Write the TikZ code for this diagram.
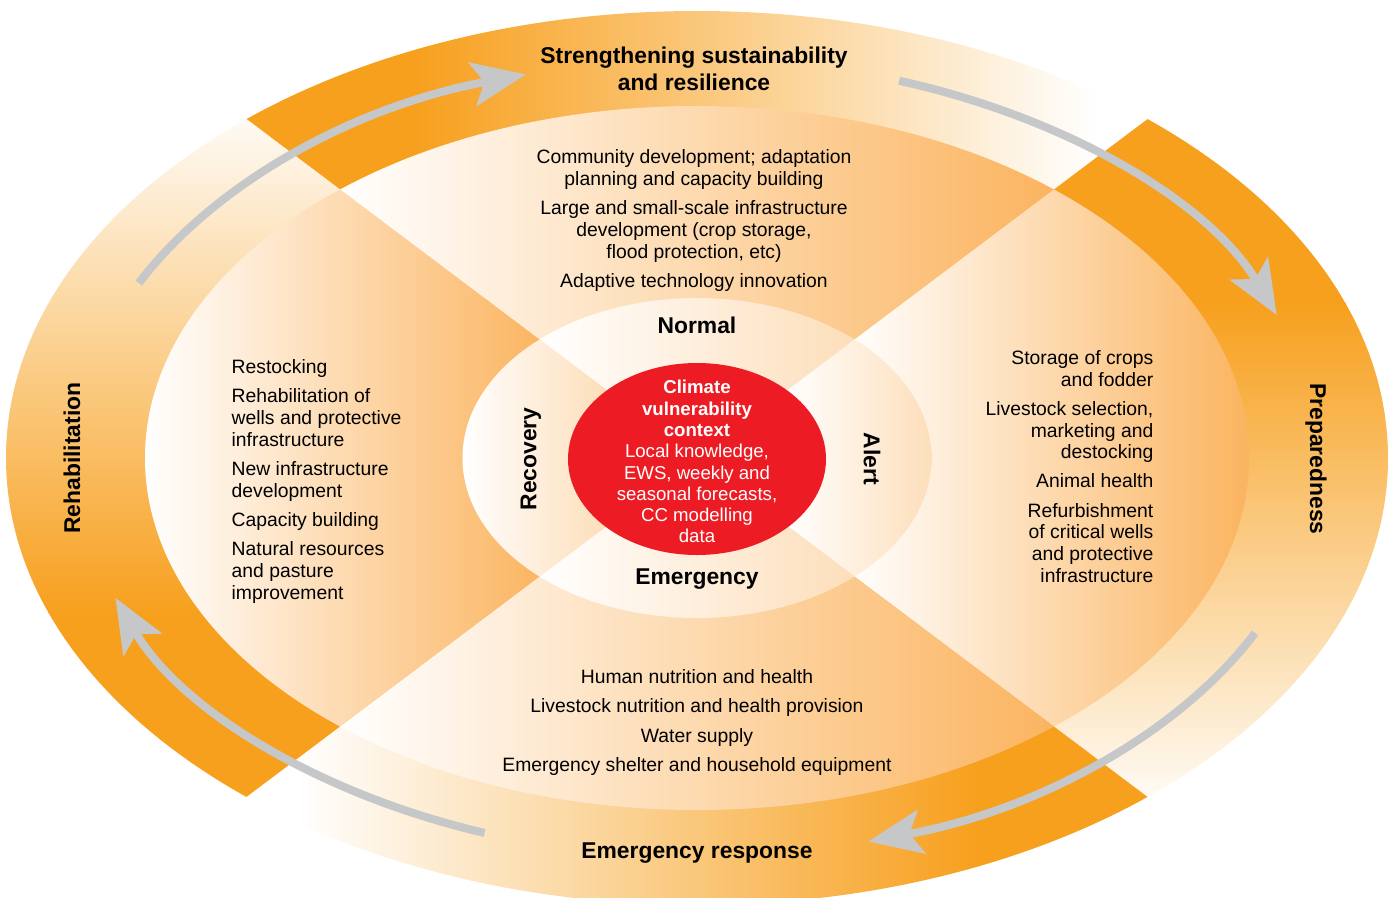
\documentclass[tikz,border=0pt]{standalone}
\usepackage{fontspec}
\setmainfont{Liberation Sans}
\usepackage{xcolor}
\usepackage{tikz}
\usetikzlibrary{calc}
\usetikzlibrary{arrows.meta}

\definecolor{cyorange}{RGB}{247,160,30}
\definecolor{cyinner}{RGB}{251,180,95}
\definecolor{cypeach}{RGB}{253,222,186}
\definecolor{cyred}{RGB}{237,28,36}
\definecolor{cygray}{RGB}{198,199,201}

\begin{document}
\begin{tikzpicture}[x=1cm, y=1cm,
        body/.style={inner sep=0pt, font=\fontsize{5.5}{6.2}\selectfont},
        phase/.style={inner sep=0pt, font=\fontsize{6.5}{7.7}\selectfont\bfseries},
        cyclearrow/.style={cygray, line width=2.3pt, -{Stealth[length=5.4mm, width=4.4mm, inset=1.2mm]}}]

        \useasboundingbox (-6.97,-4.39) rectangle (7.00,4.58);
        \clip (-6.97,-4.39) rectangle (7.00,4.58);

        %TITIK
        \coordinate (ctr) at (0,0);
        \coordinate (ne) at (9.04,6.8);
        \coordinate (nw) at (-9.04,6.8);
        \coordinate (sw) at (-9.04,-6.8);
        \coordinate (se) at (9.04,-6.8);

        %CINCIN LUAR
        \begin{scope}
            \clip (ctr) ellipse [x radius=6.91, y radius=4.47];
            \begin{scope}
                \clip (ctr) -- (nw) -- (ne) -- cycle;
                \fill[cyorange] (-7,0) rectangle (-2.79,4.6);
                \shade[left color=cyorange, right color=white] (-2.8,0) rectangle (4.0,4.6);
            \end{scope}
            \begin{scope}
                \clip (ctr) -- (ne) -- (se) -- cycle;
                \fill[cyorange] (0,1.54) rectangle (7,4.6);
                \shade[top color=cyorange, bottom color=white] (0,-3.65) rectangle (7,1.55);
            \end{scope}
            \begin{scope}
                \clip (ctr) -- (se) -- (sw) -- cycle;
                \fill[cyorange] (2.79,-4.6) rectangle (7,0);
                \shade[left color=white, right color=cyorange] (-4.0,-4.6) rectangle (2.8,0);
            \end{scope}
            \begin{scope}
                \clip (ctr) -- (sw) -- (nw) -- cycle;
                \fill[cyorange] (-7,-4.6) rectangle (0,-1.54);
                \shade[top color=white, bottom color=cyorange] (-7,-1.55) rectangle (0,3.65);
            \end{scope}
        \end{scope}

        %CINCIN DALAM
        \begin{scope}
            \clip (ctr) ellipse [x radius=5.52, y radius=3.52];
            \begin{scope}
                \clip (ctr) -- (nw) -- (ne) -- cycle;
                \shade[left color=white, right color=cyinner] (-3.6,0) rectangle (3.6,3.6);
            \end{scope}
            \begin{scope}
                \clip (ctr) -- (ne) -- (se) -- cycle;
                \shade[left color=white, right color=cyinner] (1.5,-3.6) rectangle (5.52,3.6);
            \end{scope}
            \begin{scope}
                \clip (ctr) -- (se) -- (sw) -- cycle;
                \shade[left color=white, right color=cyinner] (-3.6,-3.6) rectangle (3.6,0);
            \end{scope}
            \begin{scope}
                \clip (ctr) -- (sw) -- (nw) -- cycle;
                \shade[left color=white, right color=cyinner] (-5.52,-3.6) rectangle (-1.5,3.6);
            \end{scope}
        \end{scope}

        %FASE
        \begin{scope}
            \clip (ctr) ellipse [x radius=2.345, y radius=1.6];
            \begin{scope}
                \clip (ctr) -- (nw) -- (ne) -- cycle;
                \shade[left color=white, right color=cypeach] (-1.6,0) rectangle (1.6,1.7);
            \end{scope}
            \begin{scope}
                \clip (ctr) -- (ne) -- (se) -- cycle;
                \shade[left color=white, right color=cypeach] (0.9,-1.7) rectangle (2.35,1.7);
            \end{scope}
            \begin{scope}
                \clip (ctr) -- (se) -- (sw) -- cycle;
                \shade[left color=white, right color=cypeach] (-1.6,-1.7) rectangle (1.6,0);
            \end{scope}
            \begin{scope}
                \clip (ctr) -- (sw) -- (nw) -- cycle;
                \shade[left color=white, right color=cypeach] (-2.35,-1.7) rectangle (-0.9,1.7);
            \end{scope}
        \end{scope}

        %KONTEKS
        \fill[cyred] (0,-0.01) ellipse [x radius=1.29, y radius=0.96];
        \node[inner sep=0pt, align=center, white, font=\fontsize{5.3}{6.06}\selectfont] (context) at (0,-0.037) {\textbf{Climate}\\\textbf{vulnerability}\\\textbf{context}\\Local knowledge,\\EWS, weekly and\\seasonal forecasts,\\CC modelling\\data};

        %PANAH
        \coordinate (arr1) at (154:6.21 and 3.99);
        \coordinate (arr2) at (71:6.21 and 3.99);
        \coordinate (arr3) at (-26:6.21 and 3.99);
        \coordinate (arr4) at (250:6.21 and 3.99);
        \draw[cyclearrow] (arr1) arc[start angle=154, end angle=106, x radius=6.21, y radius=3.99];
        \draw[cyclearrow] (arr2) arc[start angle=71, end angle=21, x radius=6.21, y radius=3.99];
        \draw[cyclearrow] (arr3) arc[start angle=-26, end angle=-74, x radius=6.21, y radius=3.99];
        \draw[cyclearrow] (arr4) arc[start angle=250, end angle=200.5, x radius=6.21, y radius=3.99];

        %LABEL
        \node[phase, align=center] (sustain) at (-0.03,3.89) {Strengthening sustainability\\and resilience};
        \node[phase, rotate=-90] (prep) at (6.19,-0.01) {Preparedness};
        \node[phase] (response) at (0,-3.95) {Emergency response};
        \node[phase, rotate=90] (rehab) at (-6.25,0) {Rehabilitation};

        \node[phase] (normal) at (0,1.33) {Normal};
        \node[phase, rotate=-90] (alert) at (1.75,-0.01) {Alert};
        \node[phase] (emergency) at (0,-1.21) {Emergency};
        \node[phase, rotate=90] (recovery) at (-1.66,-0.01) {Recovery};

        \node[body, align=center] (normaltxt) at (-0.03,2.375) {Community development; adaptation\\planning and capacity building\\[2.1pt]Large and small-scale infrastructure\\development (crop storage,\\flood protection, etc)\\[2.1pt]Adaptive technology innovation};
        \node[body, align=right, anchor=east] (alerttxt) at (4.57,-0.085) {Storage of crops\\and fodder\\[2.1pt]Livestock selection,\\marketing and\\destocking\\[2.1pt]Animal health\\[2.1pt]Refurbishment\\of critical wells\\and protective\\infrastructure};
        \node[body, align=center] (emergencytxt) at (0,-2.645) {Human nutrition and health\\[2.1pt]Livestock nutrition and health provision\\[2.1pt]Water supply\\[2.1pt]Emergency shelter and household equipment};
        \node[body, align=left, anchor=west] (recoverytxt) at (-4.66,-0.235) {Restocking\\[2.1pt]Rehabilitation of\\wells and protective\\infrastructure\\[2.1pt]New infrastructure\\development\\[2.1pt]Capacity building\\[2.1pt]Natural resources\\and pasture\\improvement};
    \end{tikzpicture}
\end{document}
